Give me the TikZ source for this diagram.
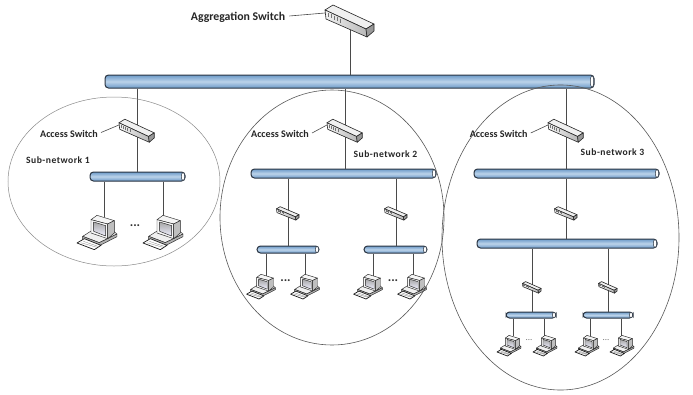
\documentclass[tikz,border=0pt]{standalone}
\usepackage{fontspec}
\setmainfont{Carlito}
\usetikzlibrary{shapes.geometric}
\definecolor{busedge}{HTML}{2B3542}
\definecolor{busdark}{HTML}{6C9AC8}
\definecolor{buslight}{HTML}{BCD3EA}
\definecolor{linkc}{HTML}{4A4A4A}
\definecolor{loopc}{HTML}{8A8A8A}
\tikzset{
  x=1pt,y=-1pt,
  link/.style={draw=linkc,line width=.8pt},
  leader/.style={draw=linkc,line width=.6pt},
  busbar/.style={draw=busedge,line width=1pt,rectangle,rounded corners=3.5pt,inner sep=0pt,
    top color=busdark,bottom color=busdark,middle color=buslight},
  buscap/.style={fill=white,draw=busedge,line width=.5pt},
  loopa/.style={ellipse,draw=loopc,line width=.5pt,inner sep=0pt,fill=none},
  loopb/.style={ellipse,draw=black!65,line width=.6pt,inner sep=0pt,fill=none},
  lbl/.style={font=\fontsize{10.1}{12}\selectfont\bfseries,text=black!85,inner sep=0pt},
  sublbl/.style={font=\fontsize{9.6}{11}\selectfont\bfseries\addfontfeature{LetterSpace=5},text=black!85,inner sep=0pt},
  dotsbig/.style={font=\fontsize{13}{13}\selectfont\bfseries,text=black!80,inner sep=0pt},
  dotssmall/.style={font=\fontsize{9}{9}\selectfont,text=black!55,inner sep=0pt},
  pics/switchbox/.style={code={
    \coordinate (-left) at (-25,-7);
    \path[fill=black!6,draw=black!85,line width=.6pt,line join=round] (-25,-10)--(-17,-15)--(24,4)--(16,9)--cycle;
    \path[left color=black!5,right color=black!28,draw=black!85,line width=.6pt,line join=round] (-25,-10)--(16,9)--(17,17)--(-24,-1)--cycle;
    \path[fill=black!40,draw=black!85,line width=.6pt,line join=round] (16,9)--(24,4)--(24,11)--(17,17)--cycle;
    \foreach \d in {0,3,6,9,12}{\draw[black!55,line width=.6pt] (-22+\d,-7+.46*\d)--(-22+\d,-3+.46*\d);}
  }},
  pics/pcunit/.style={code={
    \begin{scope}[x=.3333pt,y=-.3333pt,shift={(-78,-75)},draw=black!85,line width=.45pt,line join=round]
      \path[fill=black!6,draw] (35,85)--(62,68)--(112,90)--(128,70)--(138,78)--(85,104)--cycle;
      \path[fill=black!30,draw] (35,85)--(85,104)--(138,78)--(138,86)--(85,113)--(35,93)--cycle;
      \path[fill=black!4,draw] (60,35)--(78,22)--(130,38)--(110,48)--cycle;
      \path[fill=black!3,draw] (60,35)--(110,48)--(110,92)--(60,75)--cycle;
      \path[fill=black!25,draw] (110,48)--(130,38)--(130,75)--(110,92)--cycle;
      \path[top color=black!35,bottom color=blue!6,draw] (68,42)--(104,53)--(104,84)--(68,70)--cycle;
      \path[fill=white,draw=black!90,line width=.7pt] (18,105)--(40,92)--(90,112)--(70,125)--cycle;
      \draw[black!50,line width=.3pt] (29,104)--(78,118) (37,100)--(84,116);
    \end{scope}
  }},
}
\newcommand{\busbarnode}[5]{%
  \pgfmathsetmacro{\bw}{#3-#2}\pgfmathsetmacro{\bh}{#5-#4}%
  \pgfmathsetmacro{\bx}{(#2+#3)/2}\pgfmathsetmacro{\by}{(#4+#5)/2}%
  \pgfmathsetmacro{\bry}{\bh/2-.5}%
  \node[busbar,minimum width=\bw pt,minimum height=\bh pt] (#1) at (\bx,\by) {};
  \path[buscap] (#3-2,\by) ellipse [x radius=1.7pt,y radius=\bry pt];
}
\newcommand{\pclink}[4]{%
  \coordinate (#1) at (#3,#4);
  \draw[link] (#2.south -| #1) -- (#1);
}
\begin{document}
\begin{tikzpicture}
\useasboundingbox[fill=white] (0,0) rectangle (693,394);

% buses
\busbarnode{main}{105}{594}{75}{88}
\busbarnode{busA}{90}{185}{172}{181}
\busbarnode{busB}{251}{436}{169}{178}
\busbarnode{busBa}{257}{319}{246}{253}
\busbarnode{busBb}{364}{427}{246}{253}
\busbarnode{busC}{474}{659}{169}{178}
\busbarnode{busD}{477}{657}{239}{248}
\busbarnode{busDa}{506}{556}{312}{318}
\busbarnode{busDb}{583}{633}{312}{318}

% switch anchor points
\coordinate (agg) at (350,20);
\coordinate (swA) at (137,130);
\coordinate (swB) at (345,130);
\coordinate (swC) at (566,130);
\coordinate (swBa) at (288,213);
\coordinate (swBb) at (396,213);
\coordinate (swD) at (566,213);
\coordinate (swDa) at (532,287);
\coordinate (swDb) at (608,287);

% links between buses
\draw[link] (agg) -- (main.north -| agg);
\draw[link] (main.south -| swA) -- (busA.north -| swA);
\draw[link] (main.south -| swB) -- (busB.north -| swB);
\draw[link] (main.south -| swC) -- (busC.north -| swC);
\draw[link] (busB.south -| swBa) -- (busBa.north -| swBa);
\draw[link] (busB.south -| swBb) -- (busBb.north -| swBb);
\draw[link] (busC.south -| swD) -- (busD.north -| swD);
\draw[link] (busD.south -| swDa) -- (busDa.north -| swDa);
\draw[link] (busD.south -| swDb) -- (busDb.north -| swDb);

% links to computers
\pclink{la}{busA}{104}{217}
\pclink{lb}{busA}{163}{217}
\pclink{lc}{busBa}{266}{276}
\pclink{ld}{busBa}{305}{276}
\pclink{le}{busBb}{373}{276}
\pclink{lf}{busBb}{413}{276}
\pclink{lg}{busDa}{513}{336}
\pclink{lh}{busDa}{544}{336}
\pclink{li}{busDb}{590}{336}
\pclink{lj}{busDb}{621}{336}

% switches
\pic (sAgg) at (agg) {switchbox};
\pic[scale=.72] (sA) at (swA) {switchbox};
\pic[scale=.72] (sB) at (swB) {switchbox};
\pic[scale=.72] (sC) at (swC) {switchbox};
\pic[xscale=.46,yscale=.42] (sBa) at (swBa) {switchbox};
\pic[xscale=.46,yscale=.42] (sBb) at (swBb) {switchbox};
\pic[xscale=.46,yscale=.42] (sD) at (swD) {switchbox};
\pic[xscale=.38,yscale=.36] (sDa) at (swDa) {switchbox};
\pic[xscale=.38,yscale=.36] (sDb) at (swDb) {switchbox};

% computers
\pic (pa) at (97,233) {pcunit};
\pic (pb) at (163,233) {pcunit};
\pic[scale=.72] (pc) at (261,287) {pcunit};
\pic[scale=.72] (pd) at (305,287) {pcunit};
\pic[scale=.72] (pe) at (368,287) {pcunit};
\pic[scale=.72] (pf) at (412,287) {pcunit};
\pic[scale=.6] (pg) at (509,346) {pcunit};
\pic[scale=.6] (ph) at (545,346) {pcunit};
\pic[scale=.6] (pi) at (587,346) {pcunit};
\pic[scale=.6] (pj) at (622,346) {pcunit};

% ellipsis
\node[dotsbig] (dA) at (135,226) {...};
\node[dotsbig] (dB) at (285.5,281) {...};
\node[dotsbig] (dC) at (393,281) {...};
\node[dotssmall] (dD) at (529,340) {...};
\node[dotssmall] (dE) at (606,340) {...};

% labels and leaders
\node[lbl,font=\fontsize{11.8}{13}\selectfont\bfseries] (tAgg) at (238,17) {Aggregation Switch};
\node[lbl] (tA) at (69,133.5) {Access Switch};
\node[lbl] (tB) at (280,134) {Access Switch};
\node[lbl] (tC) at (498.7,134) {Access Switch};
\draw[leader] (tAgg.east)++(4,-1) -- (sAgg-left);
\draw[leader] (tA.east)++(3,-1) -- (sA-left);
\draw[leader] (tB.east)++(3,-1) -- (sB-left);
\draw[leader] (tC.east)++(3,-1) -- (sC-left);
\node[sublbl] (nA) at (58,160) {Sub-network 1};
\node[sublbl] (nB) at (385.5,154) {Sub-network 2};
\node[sublbl] (nC) at (612.5,152) {Sub-network 3};

% sub-network outlines
\node[loopa,minimum width=212pt,minimum height=169pt] (eA) at (114,181.5) {};
\node[loopb,minimum width=224pt,minimum height=255pt] (eB) at (332,217.5) {};
\node[loopb,minimum width=237pt,minimum height=305pt] (eC) at (560.5,237.5) {};
\end{tikzpicture}
\end{document}
